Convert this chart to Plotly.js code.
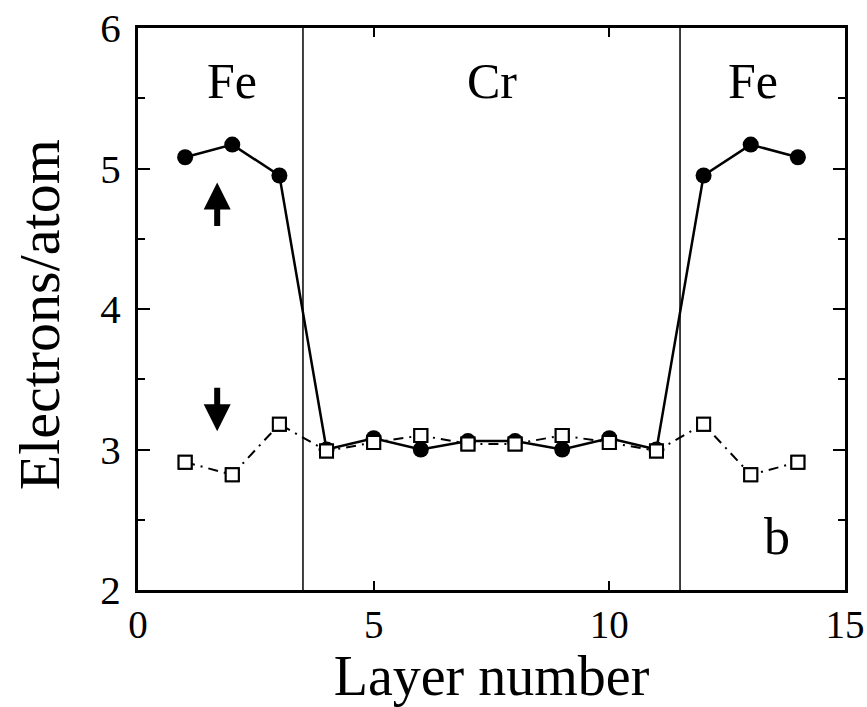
<!DOCTYPE html>
<html><head><meta charset="utf-8">
<script src="https://cdn.plot.ly/plotly-3.0.1.min.js"></script>
<style>html,body{margin:0;padding:0;background:#fff}</style>
</head><body><div id="plot" style="width:867px;height:707px"></div>
<script>
const layers = [1,2,3,4,5,6,7,8,9,10,11,12,13,14];
const spinUp = [5.08,5.17,4.95,3.00,3.08,3.00,3.06,3.06,3.00,3.08,3.00,4.95,5.17,5.08];
const spinDown = [2.91,2.82,3.18,2.99,3.05,3.10,3.04,3.04,3.10,3.05,2.99,3.18,2.82,2.91];
const boundaries = [3.5, 11.5];
const regionLabels = ['Fe','Cr','Fe'];
const regionX = [2, 7.5, 13.05];
const xTicks = [0,5,10,15];
const yTicks = [2,3,4,5,6];

const font = "Liberation Serif";
const traces = [
 {x: layers, y: spinDown, mode:'lines+markers', type:'scatter',
  line:{color:'#000', width:2, dash:'10px,6px,2px,6px'},
  marker:{symbol:'square', size:13, color:'#fff', line:{color:'#000', width:2}}},
 {x: layers, y: spinUp, mode:'lines+markers', type:'scatter',
  line:{color:'#000', width:2.5},
  marker:{symbol:'circle', size:16, color:'#000'}},
 {x: layers, y: spinDown, mode:'markers', type:'scatter',
  marker:{symbol:'square', size:13, color:'#fff', line:{color:'#000', width:2}}}
];
const shapes = boundaries.map(b => ({type:'line', xref:'x', yref:'paper', x0:b, x1:b, y0:0, y1:1, line:{color:'#000', width:1.5}}));
const annotations = regionLabels.map((t,i) => ({x: regionX[i], y: 5.62, xref:'x', yref:'y', text:t, showarrow:false, font:{family:font, size:50, color:'#000'}}));
annotations.push({x:13.55, y:2.38, xref:'x', yref:'y', text:'b', showarrow:false, font:{family:font, size:52, color:'#000'}});
annotations.push({x:1.68, y:4.9, ax:1.68, ay:4.58, xref:'x', yref:'y', axref:'x', ayref:'y', text:'', showarrow:true, arrowhead:2, arrowsize:0.9, arrowwidth:6, arrowcolor:'#000'});
annotations.push({x:1.68, y:3.13, ax:1.68, ay:3.45, xref:'x', yref:'y', axref:'x', ayref:'y', text:'', showarrow:true, arrowhead:2, arrowsize:0.9, arrowwidth:6, arrowcolor:'#000'});
annotations.push({x:-0.139, y:0.49, xref:'paper', yref:'paper', xanchor:'center', yanchor:'middle', textangle:-90, text:'Electrons/atom', showarrow:false, font:{family:font, size:58, color:'#000'}});

const layout = {
 width:867, height:707, margin:{l:138, r:22, t:28, b:117},
 paper_bgcolor:'#fff', plot_bgcolor:'#fff', showlegend:false,
 font:{family:font, color:'#000'},
 xaxis:{range:[0,15], tickvals:xTicks, ticktext:xTicks.map(String), ticks:'inside', ticklen:9, tickwidth:2, tickcolor:'#000',
  showline:true, linewidth:3, linecolor:'#000', mirror:'ticks', showgrid:false, zeroline:false,
  tickfont:{family:font, size:39}, ticklabelstandoff:-2,
  title:{text:'Layer number', font:{family:font, size:56}, standoff:12}},
 yaxis:{range:[2,6], tickvals:yTicks, ticktext:yTicks.map(String), ticks:'inside', ticklen:12, tickwidth:2, tickcolor:'#000',
  showline:true, linewidth:3, linecolor:'#000', mirror:'ticks', showgrid:false, zeroline:false,
  minor:{dtick:0.5, ticks:'inside', ticklen:7, tickwidth:2, tickcolor:'#000', showgrid:false},
  tickfont:{family:font, size:41}, ticklabelstandoff:6},
 shapes: shapes, annotations: annotations
};
Plotly.newPlot('plot', traces, layout, {displayModeBar:false, staticPlot:true});
</script></body></html>
